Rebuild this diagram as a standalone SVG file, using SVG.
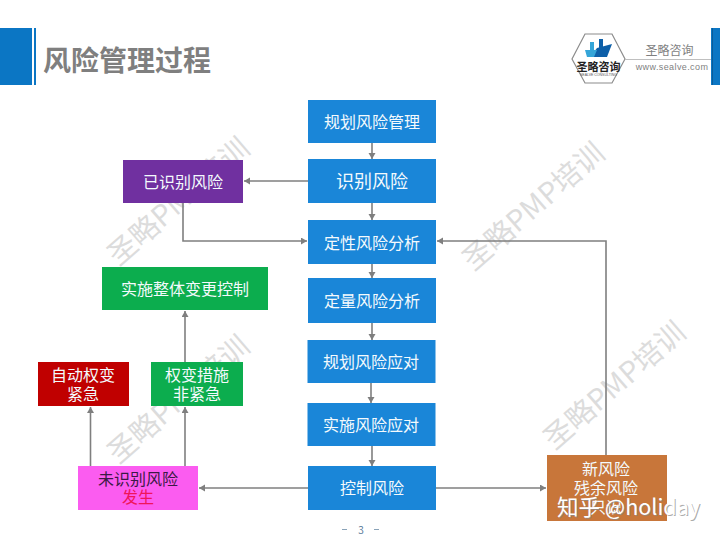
<svg xmlns="http://www.w3.org/2000/svg" width="720" height="540" viewBox="0 0 720 540">
<style>
text{font-family:"Noto Sans CJK SC","Liberation Sans",sans-serif;text-anchor:middle}
.t{fill:#f4fafd;font-size:16px}
.b{fill:#1a86d8}
.w{fill:#dcdcdc;font-size:29px;font-family:"Noto Sans CJK SC",sans-serif}
.c{fill:none;stroke:#7f7f7f;stroke-width:1.6}
</style>
<defs>
<marker id="a" markerWidth="8" markerHeight="8" refX="6" refY="3.5" orient="auto" markerUnits="userSpaceOnUse"><path d="M0 0L6 3.5L0 7Z" fill="#7f7f7f"/></marker>
</defs>
<rect width="720" height="540" fill="#fff"/>
<g id="header">
<rect x="0" y="28" width="32" height="57" fill="#0b76c4"/>
<rect x="34" y="28" width="2" height="57" fill="#0b76c4"/>
<text x="127" y="71" font-size="28" font-weight="700" fill="#7f7f7f">风险管理过程</text>
<rect x="711" y="28" width="9" height="57" fill="#0b76c4"/>
<rect x="712" y="28" width="1" height="57" fill="#0b5c99"/>
</g>
<g id="logo">
<path d="M585 34H612L625 59L612 83H585L572 59Z" fill="#fff" stroke="#8c8c8c" stroke-width="1.2"/>
<path d="M597 48L612 44L607 57H590Z" fill="#0d5fa8"/>
<path d="M585 50H597L594 57H587Z" fill="#35a5d8"/>
<rect x="590" y="42" width="4" height="8" fill="#35a5d8"/>
<rect x="599" y="39" width="4" height="9" fill="#0d5fa8"/>
<text x="598.500" y="71" font-size="11" font-weight="700" fill="#222">圣略咨询</text>
<text x="598.500" y="75.500" font-size="3.500" fill="#555" style="font-family:'Liberation Sans',sans-serif">SEALVE CONSULTING</text>
<path d="M625 59.500H711" stroke="#bfbfbf" fill="none"/>
<text x="669.500" y="55" font-size="12" fill="#7f7f7f">圣略咨询</text>
<text x="672" y="69.500" font-size="9" letter-spacing=".4" fill="#7f7f7f" style="font-family:'Liberation Sans',sans-serif">www.sealve.com</text>
</g>
<g id="watermarks">
<text class="w" transform="translate(185,209) rotate(-41)">圣略PMP培训</text>
<text class="w" transform="translate(540,214) rotate(-41)">圣略PMP培训</text>
<text class="w" transform="translate(185,407) rotate(-41)">圣略PMP培训</text>
<text class="w" transform="translate(621,393) rotate(-41)">圣略PMP培训</text>
</g>
<g id="connectors">
<path class="c" marker-end="url(#a)" d="M372 143V159"/>
<path class="c" marker-end="url(#a)" d="M372 203V220"/>
<path class="c" marker-end="url(#a)" d="M372 264V278"/>
<path class="c" marker-end="url(#a)" d="M372 323V340"/>
<path class="c" marker-end="url(#a)" d="M371 383V403"/>
<path class="c" marker-end="url(#a)" d="M372 446V466"/>
<path class="c" marker-end="url(#a)" d="M308 181H244"/>
<path class="c" marker-end="url(#a)" d="M183 203V241H307"/>
<path class="c" marker-end="url(#a)" d="M606 455V241H437"/>
<path class="c" marker-end="url(#a)" d="M308 488H199"/>
<path class="c" marker-end="url(#a)" d="M436 488H546"/>
<path class="c" marker-end="url(#a)" d="M90.500 466V407"/>
<path class="c" marker-end="url(#a)" d="M185 466V407"/>
<path class="c" marker-end="url(#a)" d="M185 362V311"/>
</g>
<g id="n1"><rect class="b" x="308" y="100" width="128" height="43"/><text class="t" x="372" y="128">规划风险管理</text></g>
<g id="n2"><rect class="b" x="308" y="159" width="128" height="44"/><text class="t" x="372" y="188" style="font-size:18px">识别风险</text></g>
<g id="n3"><rect class="b" x="308" y="220" width="128" height="44"/><text class="t" x="372" y="249">定性风险分析</text></g>
<g id="n4"><rect class="b" x="308" y="278" width="128" height="45"/><text class="t" x="372" y="307">定量风险分析</text></g>
<g id="n5"><rect class="b" x="307.500" y="340" width="128" height="43"/><text class="t" x="371" y="368">规划风险应对</text></g>
<g id="n6"><rect class="b" x="307.500" y="403" width="128" height="43"/><text class="t" x="371" y="431">实施风险应对</text></g>
<g id="n7"><rect class="b" x="308" y="466" width="128" height="44"/><text class="t" x="372" y="494">控制风险</text></g>
<g id="n8"><rect x="123" y="160" width="120" height="43" fill="#7030a0"/><text class="t" x="183" y="188">已识别风险</text></g>
<g id="n9"><rect x="102" y="267" width="166" height="43" fill="#0cad4e"/><text class="t" x="185" y="295">实施整体变更控制</text></g>
<g id="n10"><rect x="38" y="362" width="91" height="44" fill="#c00000"/><text class="t" x="83" y="381">自动权变</text><text class="t" x="83" y="400">紧急</text></g>
<g id="n11"><rect x="151" y="362" width="92" height="44" fill="#0cad4e"/><text class="t" x="197" y="381">权变措施</text><text class="t" x="197" y="400">非紧急</text></g>
<g id="n12"><rect x="78" y="466" width="120" height="44" fill="#fb5cf0"/><text x="138" y="485" font-size="16" fill="#3b1a45">未识别风险</text><text x="138" y="503" font-size="16" fill="#f0145a">发生</text></g>
<g id="n13"><rect x="547" y="455" width="120" height="66" fill="#c8763a"/><text class="t" x="606" y="475">新风险</text><text class="t" x="606" y="494">残余风险</text><text class="t" x="606" y="513">只识</text></g>
<g id="credit">
<text x="629.500" y="516" font-size="21.500" fill="#8a8a8a" opacity=".7">知乎 @holiday</text>
<text x="628.500" y="515" font-size="21.500" fill="#fff">知乎 @holiday</text>
</g>
<g id="page"><text x="361" y="534" font-size="10" fill="#5b7c99">3</text><path d="M342 529.500h5M374 529.500h5" stroke="#8aa3b8"/></g>
</svg>
